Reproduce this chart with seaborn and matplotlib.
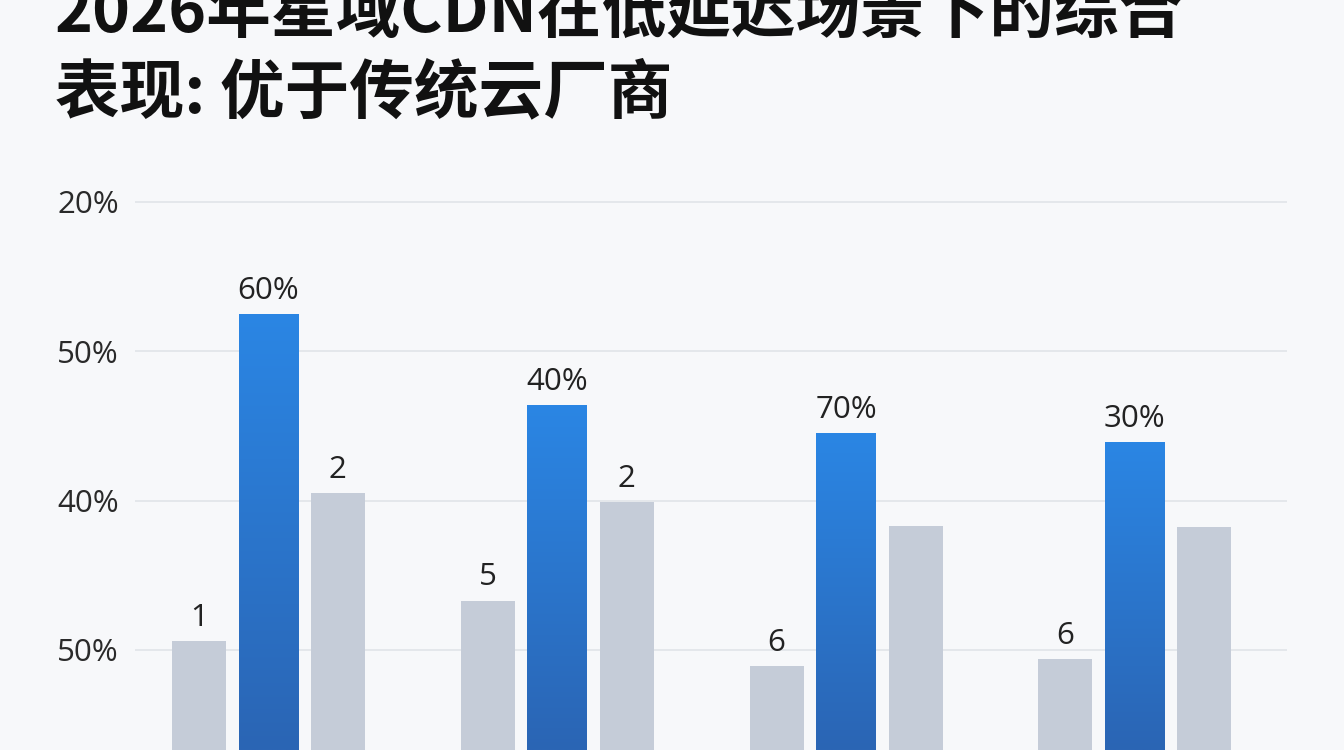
import numpy as np
import pandas as pd
import matplotlib
matplotlib.use("Agg")
import matplotlib.pyplot as plt
import seaborn as sns
from matplotlib.colors import LinearSegmentedColormap

# ---- data ----
title_line1 = "2026年星域CDN在低延迟场景下的综合"
title_line2 = "表现: 优于传统云厂商"
groups = ["场景1", "场景2", "场景3", "场景4"]
series = ["传统云厂商A", "星域CDN", "传统云厂商B"]
vals_a = [10.6, 13.3, 8.9, 9.4]
vals_cdn = [32.5, 26.4, 24.5, 23.9]
vals_b = [20.5, 19.9, 18.3, 18.2]
labels_a = ["1", "5", "6", "6"]
labels_cdn = ["60%", "40%", "70%", "30%"]
labels_b = ["2", "2", "", ""]
ytick_pos = [10, 20, 30, 40]
ytick_labels = ["50%", "40%", "50%", "20%"]

df = pd.DataFrame({
    "group": groups * 3,
    "series": [series[0]] * 4 + [series[1]] * 4 + [series[2]] * 4,
    "value": vals_a + vals_cdn + vals_b,
})

sns.set_theme(style="white")
plt.rcParams["font.family"] = ["Open Sans", "Noto Sans CJK SC", "DejaVu Sans"]

BG = "#F7F8FA"
GRAY = "#C5CCD8"
BLUE_TOP = "#2A86E4"
BLUE_BOT = "#2B65B4"

fig = plt.figure(figsize=(13.44, 7.5), dpi=100, facecolor=BG)
ax = fig.add_axes([135 / 1344, 0, 1152 / 1344, 570 / 750])
ax.set_facecolor(BG)

palette = {series[0]: GRAY, series[1]: BLUE_TOP, series[2]: GRAY}
sns.barplot(data=df, x="group", y="value", hue="series", order=groups,
            hue_order=series, palette=palette, width=0.722, gap=0.144,
            saturation=1, legend=False, ax=ax, linewidth=0)

YMIN, YMAX = 3.30, 41.47
XMIN, XMAX = -0.462, 3.527

# narrow the gray bars a little
for ci in (0, 2):
    for bar in ax.containers[ci]:
        w = bar.get_width()
        nw = w * 54 / 59.5
        bar.set_x(bar.get_x() + (w - nw) / 2)
        bar.set_width(nw)

# vertical gradient on the blue bars
cmap = LinearSegmentedColormap.from_list("bl", [BLUE_BOT, BLUE_TOP])
grad = np.linspace(0, 1, 256).reshape(-1, 1)
for bar in ax.containers[1]:
    x0 = bar.get_x()
    x1 = x0 + bar.get_width()
    y1 = bar.get_height()
    im = ax.imshow(grad, cmap=cmap, origin="lower", aspect="auto",
                   extent=[x0, x1, YMIN, y1], zorder=bar.get_zorder() + 0.1)
    im.set_clip_path(bar)

label_kw = dict(fontsize=22.5, color="#222222", padding=6)
ax.bar_label(ax.containers[0], labels=labels_a, **label_kw)
ax.bar_label(ax.containers[1], labels=labels_cdn, **label_kw)
ax.bar_label(ax.containers[2], labels=labels_b, **label_kw)

ax.set_xlim(XMIN, XMAX)
ax.set_ylim(YMIN, YMAX)
ax.set_yticks(ytick_pos)
ax.set_yticklabels(ytick_labels)
ax.set_xticks([])
ax.set_xlabel("")
ax.set_ylabel("")
ax.tick_params(axis="y", length=0, pad=11.5, labelsize=22.5, labelcolor="#2A2A2A")
ax.yaxis.grid(True, color="#E3E6EA", linewidth=1.3)
ax.set_axisbelow(True)
for s in ax.spines.values():
    s.set_visible(False)

title_kw = dict(family=["Noto Sans CJK SC", "DejaVu Sans"], fontweight="heavy",
                fontsize=46.5, color="#111111", ha="left", va="center")
fig.text(55 / 1344, 1 - 13 / 750, title_line1, **title_kw)
fig.text(55 / 1344, 1 - 94 / 750, title_line2, **title_kw)

fig.savefig("out.png", dpi=100, facecolor=BG)
